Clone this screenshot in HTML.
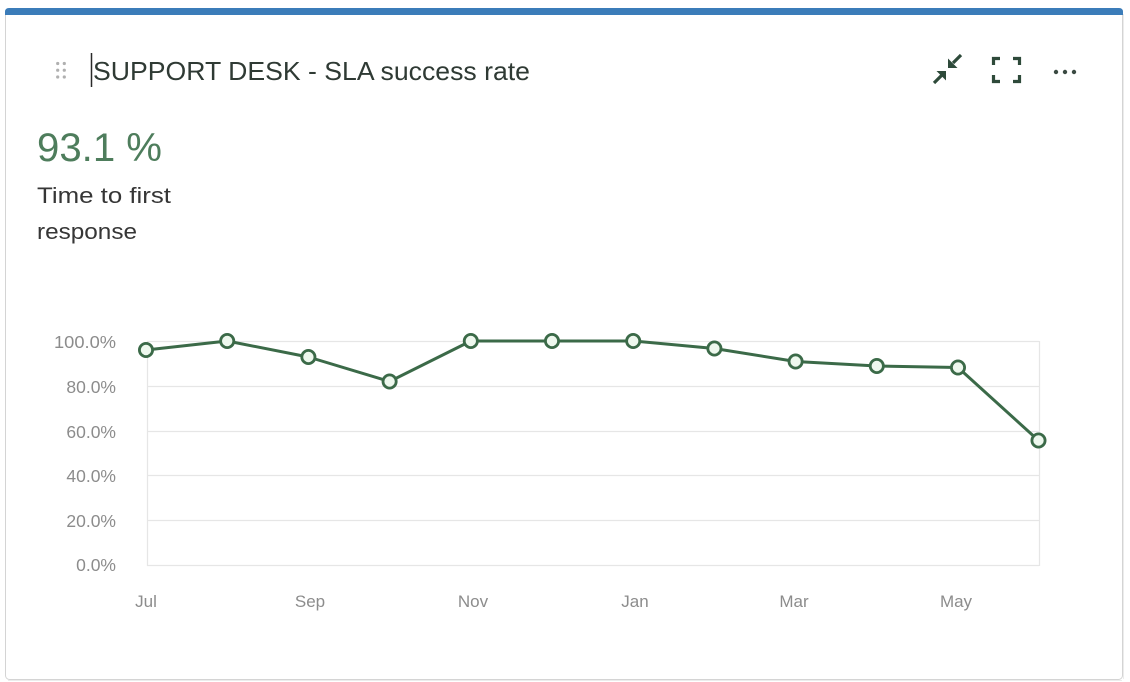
<!DOCTYPE html>
<html>
<head>
<meta charset="utf-8">
<style>
  html,body{margin:0;padding:0;background:#ffffff;}
  body{width:1130px;height:682px;overflow:hidden;}
  svg{display:block;}
  text{font-family:"Liberation Sans","DejaVu Sans",sans-serif;}
</style>
</head>
<body>
<svg width="1130" height="682" viewBox="0 0 1130 682" xmlns="http://www.w3.org/2000/svg">
  <!-- card -->
  <rect x="5.5" y="8.5" width="1117" height="671" rx="4" ry="4" fill="#ffffff" stroke="#d4d4d4" stroke-width="1"/>
  <line x1="8" y1="680.5" x2="1122" y2="680.5" stroke="#ececec" stroke-width="1"/>
  <line x1="1123.5" y1="14" x2="1123.5" y2="679" stroke="#ececec" stroke-width="1"/>
  <!-- blue top bar -->
  <path d="M5,15 L5,12 Q5,8 9,8 L1119,8 Q1123,8 1123,12 L1123,15 Z" fill="#3b7cb9"/>

  <!-- drag handle -->
  <g fill="#b0b0b0">
    <circle cx="57.7" cy="63.5" r="1.6"/><circle cx="64.3" cy="63.5" r="1.6"/>
    <circle cx="57.7" cy="70.2" r="1.6"/><circle cx="64.3" cy="70.2" r="1.6"/>
    <circle cx="57.7" cy="77" r="1.6"/><circle cx="64.3" cy="77" r="1.6"/>
  </g>
  <!-- cursor -->
  <line x1="91.5" y1="53" x2="91.5" y2="87" stroke="#2a2a2a" stroke-width="1.5"/>
  <!-- title -->
  <text x="93" y="80" font-size="26" fill="#2f3a34" textLength="437" lengthAdjust="spacingAndGlyphs">SUPPORT DESK - SLA success rate</text>

  <!-- header icons -->
  <g stroke="#2e4a3a" stroke-width="3.2" fill="none" stroke-linecap="butt">
    <line x1="934" y1="83" x2="941.5" y2="75.5"/>
    <line x1="961" y1="55" x2="953" y2="63"/>
    <path d="M993.5,65 L993.5,58.5 L1000,58.5"/>
    <path d="M1013,58.5 L1019.5,58.5 L1019.5,65"/>
    <path d="M993.5,75 L993.5,81.5 L1000,81.5"/>
    <path d="M1013,81.5 L1019.5,81.5 L1019.5,75"/>
  </g>
  <g fill="#2e4a3a">
    <polygon points="946,71 946,80.5 936.5,71"/>
    <polygon points="948,68 948,58.5 957.5,68"/>
  </g>
  <g fill="#3a4a42">
    <circle cx="1056" cy="72" r="2.2"/>
    <circle cx="1065" cy="72" r="2.2"/>
    <circle cx="1074" cy="72" r="2.2"/>
  </g>

  <!-- KPI -->
  <text x="37" y="161" font-size="40" fill="#4e7d5c" textLength="125" lengthAdjust="spacingAndGlyphs">93.1 %</text>
  <text x="37" y="203" font-size="22" fill="#363636" textLength="134" lengthAdjust="spacingAndGlyphs">Time to first</text>
  <text x="37" y="239" font-size="22" fill="#363636" textLength="100" lengthAdjust="spacingAndGlyphs">response</text>

  <!-- grid -->
  <g stroke="#e6e6e6" stroke-width="1.2">
    <line x1="147" y1="341.5" x2="1039" y2="341.5"/>
    <line x1="147" y1="386.5" x2="1039" y2="386.5"/>
    <line x1="147" y1="431.5" x2="1039" y2="431.5"/>
    <line x1="147" y1="475.5" x2="1039" y2="475.5"/>
    <line x1="147" y1="520.5" x2="1039" y2="520.5"/>
    <line x1="147" y1="565.5" x2="1039" y2="565.5"/>
    <line x1="147.5" y1="341" x2="147.5" y2="566"/>
    <line x1="1039.5" y1="341" x2="1039.5" y2="566"/>
  </g>

  <!-- y labels -->
  <g font-size="17.5" fill="#8c8c8c" text-anchor="end">
    <text x="116" y="348" textLength="62" lengthAdjust="spacingAndGlyphs">100.0%</text>
    <text x="116" y="393">80.0%</text>
    <text x="116" y="438">60.0%</text>
    <text x="116" y="482">40.0%</text>
    <text x="116" y="527">20.0%</text>
    <text x="116" y="571">0.0%</text>
  </g>
  <!-- x labels -->
  <g font-size="17" fill="#8c8c8c" text-anchor="middle">
    <text x="146" y="607">Jul</text>
    <text x="310" y="607">Sep</text>
    <text x="473" y="607">Nov</text>
    <text x="635" y="607">Jan</text>
    <text x="794" y="607">Mar</text>
    <text x="956" y="607">May</text>
  </g>

  <!-- series -->
  <polyline fill="none" stroke="#3b6a48" stroke-width="3" stroke-linejoin="round"
    points="146,350 227.2,341 308.4,357 389.6,381.5 470.8,341 552,341 633.2,341 714.4,348.5 795.6,361.5 876.8,366 958,367.5 1038.5,440.5"/>
  <g fill="#eef8ee" stroke="#3b6a48" stroke-width="2.8">
    <circle cx="146" cy="350" r="6.6"/>
    <circle cx="227.2" cy="341" r="6.6"/>
    <circle cx="308.4" cy="357" r="6.6"/>
    <circle cx="389.6" cy="381.5" r="6.6"/>
    <circle cx="470.8" cy="341" r="6.6"/>
    <circle cx="552" cy="341" r="6.6"/>
    <circle cx="633.2" cy="341" r="6.6"/>
    <circle cx="714.4" cy="348.5" r="6.6"/>
    <circle cx="795.6" cy="361.5" r="6.6"/>
    <circle cx="876.8" cy="366" r="6.6"/>
    <circle cx="958" cy="367.5" r="6.6"/>
    <circle cx="1038.5" cy="440.5" r="6.6"/>
  </g>
</svg>
</body>
</html>
